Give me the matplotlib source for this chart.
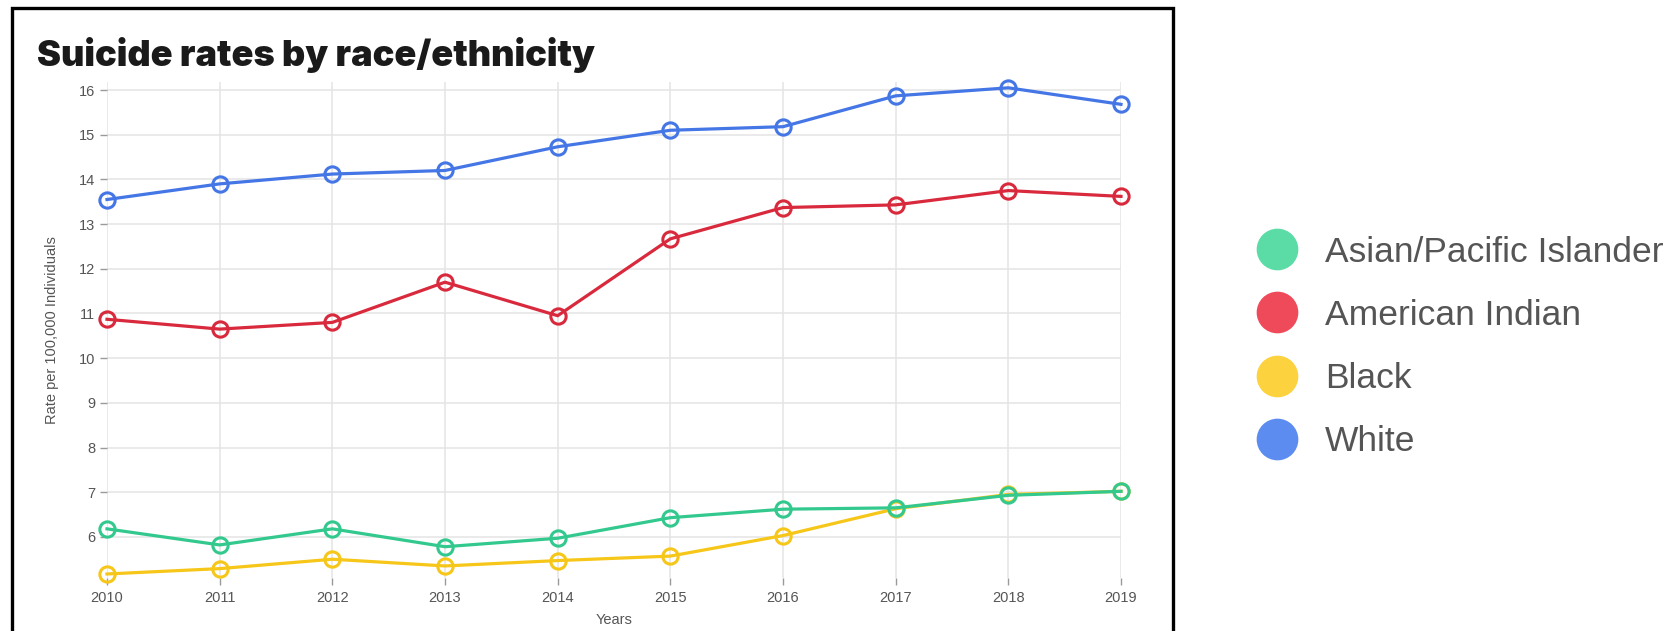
import matplotlib
matplotlib.use("Agg")
import matplotlib.pyplot as plt
from matplotlib.lines import Line2D
from matplotlib.patches import Rectangle

years = [2010, 2011, 2012, 2013, 2014, 2015, 2016, 2017, 2018, 2019]
white = [13.55, 13.9, 14.12, 14.2, 14.73, 15.1, 15.18, 15.87, 16.05, 15.68]
american_indian = [10.87, 10.65, 10.8, 11.7, 10.95, 12.67, 13.37, 13.43, 13.75, 13.62]
black = [5.17, 5.29, 5.5, 5.35, 5.47, 5.57, 6.03, 6.63, 6.95, 7.02]
asian_pi = [6.18, 5.82, 6.18, 5.78, 5.97, 6.43, 6.62, 6.65, 6.93, 7.02]

legend_labels = ["Asian/Pacific Islander", "American Indian", "Black", "White"]
line_colors = {"White": "#4576e6", "American Indian": "#d92a3d",
               "Black": "#f6c619", "Asian/Pacific Islander": "#33c98e"}
legend_colors = ["#5bdca6", "#ef4a5a", "#fcd23e", "#5c8cf0"]

plt.rcParams['font.family'] = ['Liberation Sans', 'DejaVu Sans']

fig = plt.figure(figsize=(16.8, 6.31), dpi=100)
ax = fig.add_axes([107 / 1680, 1 - 578 / 631, (1121 - 107) / 1680, (578 - 82) / 631])

series = [("White", white), ("American Indian", american_indian),
          ("Black", black), ("Asian/Pacific Islander", asian_pi)]
for name, vals in series:
    ax.plot(years, vals, color=line_colors[name], lw=2.3, marker='o', ms=11,
            mfc='none', mew=2.2, clip_on=False, zorder=3)

ax.set_xlim(2010, 2019)
ax.set_ylim(5.08, 16.18)
ax.set_xticks(years)
ax.set_yticks(range(6, 17))
ax.grid(True, color='#e4e4e4', lw=1.1)
ax.set_axisbelow(True)
for s in ax.spines.values():
    s.set_visible(False)
ax.tick_params(axis='both', colors='#9a9a9a', labelcolor='#555555',
               labelsize=10.5, length=5, width=1)
ax.tick_params(axis='x', pad=4)
ax.set_ylabel("Rate per 100,000 Individuals", fontsize=10.5, color='#555555', labelpad=14)
ax.set_xlabel("Years", fontsize=10.5, color='#555555', labelpad=6)

fig.text(37 / 1680, 1 - 66 / 631, "Suicide rates by race/ethnicity",
         fontsize=26, fontweight='black', family=['Inter', 'DejaVu Sans'],
         color='#1a1a1a', ha='left', va='baseline')

# outer frame
fig.patches.append(Rectangle((12 / 1680, -0.05), (1173 - 12) / 1680, 1.05 - 8 / 631,
                             transform=fig.transFigure, fill=False,
                             edgecolor='black', lw=2.4))

handles = [Line2D([], [], ls='none', marker='o', ms=29, mfc=c, mec=c)
           for c in legend_colors]
fig.legend(handles, legend_labels, loc='upper left',
           bbox_to_anchor=(1238 / 1680, 1 - 218 / 631), frameon=False,
           fontsize=25.5, labelcolor='#555555', labelspacing=0.85,
           handlelength=1.2, handletextpad=0.75, borderpad=0)

fig.savefig("out.png", dpi=100)
